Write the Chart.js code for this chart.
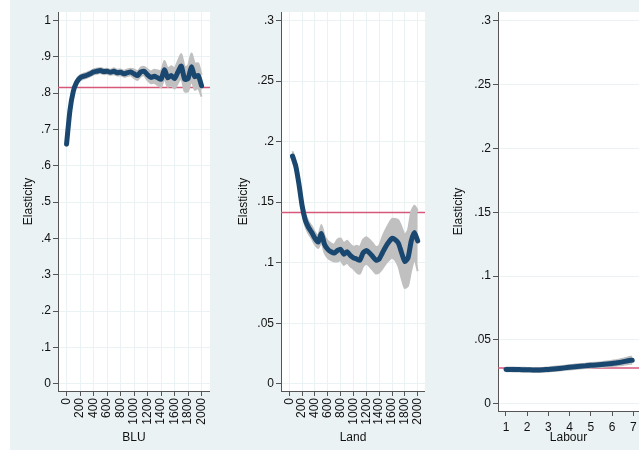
<!DOCTYPE html>
<html>
<head>
<meta charset="utf-8">
<script src="https://cdn.jsdelivr.net/npm/chart.js@4.4.1/dist/chart.umd.min.js"></script>
<style>
  html, body { margin: 0; padding: 0; background: #fff; overflow: hidden; }
  #bg { position: absolute; left: 10px; top: 0; width: 629px; height: 450px; background: #eaf2f3; }
  canvas { position: absolute; top: 0; }
</style>
</head>
<body>
<div id="bg">
  <canvas id="bluChart" width="200" height="450" style="left:0px"></canvas>
  <canvas id="landChart" width="210" height="450" style="left:205px"></canvas>
  <canvas id="labourChart" width="209" height="450" style="left:420px"></canvas>
</div>
<script>
// ---- data ----
const bluX = [0, 50, 100, 150, 200, 250, 300, 350, 400, 450, 500, 550, 600, 650, 700, 750, 800, 850, 900, 950,
  1000, 1050, 1100, 1150, 1200, 1250, 1300, 1350, 1400, 1450, 1500, 1550, 1600, 1650, 1700, 1750, 1800, 1850, 1900, 1950, 2000];
const bluEst = [.660, .752, .805, .830, .842, .846, .849, .853, .858, .860, .862, .859, .860, .857, .860, .856, .857, .853, .856, .858,
  .853, .848, .858, .860, .850, .843, .846, .842, .838, .864, .842, .848, .840, .858, .874, .838, .840, .872, .845, .848, .820];
const bluLo = [.652, .744, .797, .822, .835, .839, .842, .846, .851, .853, .855, .852, .853, .850, .852, .848, .849, .845, .847, .849,
  .841, .836, .846, .848, .835, .827, .828, .822, .816, .840, .817, .822, .812, .828, .841, .804, .805, .835, .809, .814, .790];
const bluHi = [.668, .760, .813, .838, .849, .853, .856, .860, .865, .867, .869, .866, .867, .864, .868, .864, .865, .861, .865, .867,
  .865, .860, .870, .872, .865, .859, .864, .862, .860, .888, .867, .874, .868, .888, .907, .872, .875, .909, .881, .882, .850];
const bluRef = 0.815;

const landX = [50, 100, 150, 200, 250, 300, 350, 400, 450, 500, 550, 600, 650, 700, 750, 800, 850, 900, 950, 1000,
  1050, 1100, 1150, 1200, 1250, 1300, 1350, 1400, 1450, 1500, 1550, 1600, 1650, 1700, 1750, 1800, 1850, 1900, 1950, 2000];
const landEst = [.188, .180, .165, .147, .135, .129, .125, .120, .117, .124, .115, .111, .109, .108, .110, .111, .107, .109, .106, .104,
  .103, .102, .108, .110, .108, .105, .102, .103, .108, .113, .117, .120, .119, .116, .108, .101, .104, .118, .125, .118];
const landLo = [.184, .176, .161, .143, .130, .124, .120, .115, .112, .117, .108, .104, .102, .101, .101, .102, .098, .100, .097, .095,
  .092, .091, .097, .099, .097, .094, .091, .092, .095, .099, .102, .104, .102, .097, .087, .079, .081, .094, .103, .093];
const landHi = [.192, .184, .169, .151, .140, .134, .130, .125, .122, .131, .122, .118, .116, .115, .119, .120, .116, .118, .115, .113,
  .114, .113, .119, .121, .119, .116, .113, .114, .121, .127, .132, .136, .136, .135, .129, .123, .127, .142, .147, .143];
const landRef = 0.1415;

const labourX = [1, 1.25, 1.5, 1.75, 2, 2.25, 2.5, 2.75, 3, 3.25, 3.5, 3.75, 4, 4.25, 4.5, 4.75, 5, 5.25, 5.5, 5.75, 6, 6.25, 6.5, 6.75, 6.95];
const labourEst = [.0268, .0268, .0267, .0266, .0265, .0264, .0263, .0265, .0268, .0272, .0276, .0280, .0285, .0289, .0293, .0296,
  .0300, .0303, .0306, .0310, .0315, .0320, .0327, .0336, .0340];
const labourLo = [.0253, .0253, .0252, .0251, .0250, .0249, .0248, .0250, .0252, .0256, .0260, .0264, .0268, .0272, .0276, .0279,
  .0282, .0285, .0287, .0290, .0294, .0298, .0303, .0310, .0312];
const labourHi = [.0283, .0283, .0282, .0281, .0280, .0279, .0278, .0280, .0284, .0288, .0292, .0296, .0302, .0306, .0310, .0313,
  .0318, .0321, .0325, .0330, .0336, .0342, .0351, .0362, .0368];
const labourRef = 0.028;

const thousandTicks = [0, 200, 400, 600, 800, 1000, 1200, 1400, 1600, 1800, 2000];
const labourTicks = [1, 2, 3, 4, 5, 6, 7];
const bluYTicks = [0, 0.1, 0.2, 0.3, 0.4, 0.5, 0.6, 0.7, 0.8, 0.9, 1];
const smallYTicks = [0, 0.05, 0.1, 0.15, 0.2, 0.25, 0.3];

// ---- drawing ----
const FONT = { family: "'Liberation Sans', Arial, sans-serif", size: 12 };
const TXT = '#111';
const AXIS = '#555';
const GRID = '#eaf2f3';

const plotBg = {
  id: 'plotBg',
  beforeDraw(chart) {
    const a = chart.chartArea, ctx = chart.ctx;
    ctx.save();
    ctx.fillStyle = '#fff';
    ctx.fillRect(a.left, a.top, a.right - a.left, a.bottom - a.top);
    ctx.restore();
  }
};

const fmt = v => v === 0 ? '0' : String(v).replace(/^0\./, '.');
const pts = (xs, ys) => xs.map((x, i) => ({ x, y: ys[i] }));

function panel(id, o) {
  new Chart(document.getElementById(id), {
    type: 'line',
    data: {
      datasets: [
        { data: pts(o.x, o.est), borderColor: '#1a476f', borderWidth: 5, tension: 0.2,
          borderCapStyle: 'round', borderJoinStyle: 'round', pointRadius: 0, order: 0 },
        { data: pts(o.x, o.lo), borderColor: '#c0c0c0', borderWidth: 2, tension: 0.2, pointRadius: 0, fill: false, order: 1 },
        { data: pts(o.x, o.hi), borderColor: '#c0c0c0', borderWidth: 2, tension: 0.2, pointRadius: 0,
          fill: 1, backgroundColor: '#c0c0c0', order: 1 },
        { data: [{ x: o.xMin, y: o.ref }, { x: o.xMax, y: o.ref }], borderColor: '#d6597a', borderWidth: 1.5,
          pointRadius: 0, order: 2 }
      ]
    },
    options: {
      responsive: false,
      animation: false,
      layout: { padding: { top: 12, left: 0, right: 0, bottom: 0 } },
      plugins: { legend: { display: false }, tooltip: { enabled: false } },
      scales: {
        x: {
          type: 'linear', min: o.xMin, max: o.xMax,
          afterBuildTicks: s => { s.ticks = o.xTicks.map(v => ({ value: v })); },
          afterFit: s => { s.height = o.xH; s.paddingLeft = 0; s.paddingRight = 0; },
          grid: { color: GRID, drawOnChartArea: o.vGrid, tickColor: AXIS, tickLength: 5 },
          border: { color: AXIS, width: 1 },
          ticks: { font: FONT, color: TXT, autoSkip: false, padding: o.rotate ? 2 : 4,
            maxRotation: o.rotate ? 90 : 0, minRotation: o.rotate ? 90 : 0, callback: v => String(v) },
          title: { display: true, text: o.xTitle, font: FONT, color: TXT, padding: { top: 0, bottom: 5 } }
        },
        y: {
          type: 'linear', min: o.yMin, max: o.yMax,
          afterBuildTicks: s => { s.ticks = o.yTicks.map(v => ({ value: v })); },
          afterFit: s => { s.width = o.yW; s.paddingTop = 0; s.paddingBottom = 0; },
          grid: { color: GRID, tickColor: AXIS, tickLength: 5 },
          border: { color: AXIS, width: 1 },
          ticks: { font: FONT, color: TXT, padding: 2, callback: v => fmt(v) },
          title: { display: true, text: 'Elasticity', font: FONT, color: TXT, padding: { top: o.yTitlePad, bottom: 0 } }
        }
      }
    },
    plugins: [plotBg]
  });
}

panel('bluChart', {
  x: bluX, est: bluEst, lo: bluLo, hi: bluHi, ref: bluRef,
  xMin: -127, xMax: 2125, xTicks: thousandTicks, rotate: true, vGrid: true, xTitle: 'BLU', xH: 59,
  yMin: -0.02, yMax: 1.023, yTicks: bluYTicks, yW: 48, yTitlePad: 11
});
panel('landChart', {
  x: landX, est: landEst, lo: landLo, hi: landHi, ref: landRef,
  xMin: -129, xMax: 2114, xTicks: thousandTicks, rotate: true, vGrid: true, xTitle: 'Land', xH: 59,
  yMin: -0.006, yMax: 0.307, yTicks: smallYTicks, yW: 66, yTitlePad: 21
});
panel('labourChart', {
  x: labourX, est: labourEst, lo: labourLo, hi: labourHi, ref: labourRef,
  xMin: 0.624, xMax: 7.27, xTicks: labourTicks, rotate: false, vGrid: false, xTitle: 'Labour', xH: 39,
  yMin: -0.0058, yMax: 0.307, yTicks: smallYTicks, yW: 68, yTitlePad: 21
});
</script>
</body>
</html>
